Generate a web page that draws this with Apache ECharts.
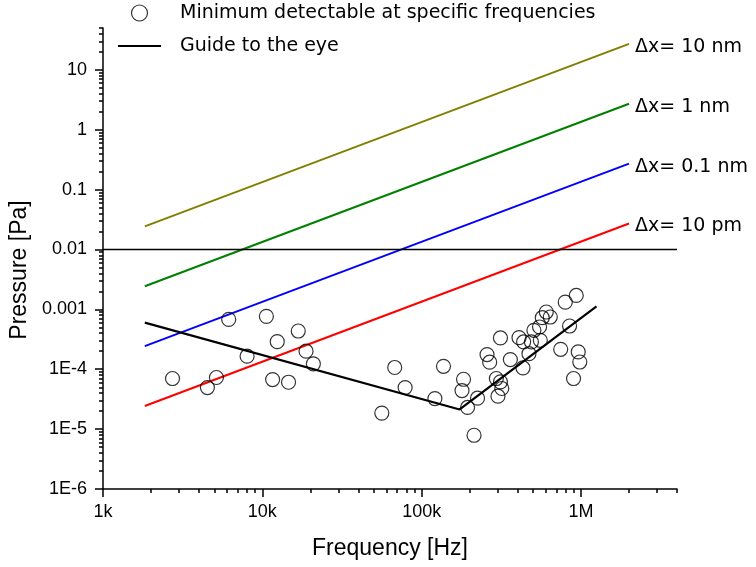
<!DOCTYPE html>
<html>
<head>
<meta charset="utf-8">
<script src="https://cdn.jsdelivr.net/npm/echarts@6/dist/echarts.min.js"></script>
<style>html,body{margin:0;padding:0;background:#fff}#c{width:756px;height:567px}</style>
</head>
<body>
<div id="c"></div>
<script>
// Measured points: frequency [Hz] and minimum detectable pressure [Pa]
const pointFreq = [2730, 4520, 5150, 6150, 8020, 10600, 12400, 11600, 14600, 16800, 18800, 20900,
  56200, 67700, 78700, 121000, 137000, 183000, 179000, 194000, 213000, 224000, 257000, 267000,
  312000, 294000, 312000, 318000, 301000, 360000, 408000, 436000, 432000, 471000, 488000, 506000,
  549000, 555000, 571000, 605000, 641000, 745000, 796000, 847000, 933000, 897000, 960000, 982000];
const pointPressure = [7.0e-5, 4.95e-5, 7.28e-5, 6.8e-4, 1.65e-4, 7.64e-4, 2.89e-4, 6.73e-5, 6.07e-5, 4.35e-4, 2.0e-4, 1.23e-4,
  1.85e-5, 1.07e-4, 4.95e-5, 3.24e-5, 1.12e-4, 6.8e-5, 4.41e-5, 2.3e-5, 7.9e-6, 3.29e-5, 1.76e-4, 1.31e-4,
  3.33e-4, 7.0e-5, 6.15e-5, 4.77e-5, 3.55e-5, 1.45e-4, 3.37e-4, 2.86e-4, 1.05e-4, 1.82e-4, 2.86e-4, 4.47e-4,
  5.08e-4, 3.04e-4, 7.26e-4, 9.03e-4, 7.45e-4, 2.15e-4, 1.32e-3, 5.27e-4, 1.71e-3, 7.0e-5, 1.95e-4, 1.32e-4];

// Guide to the eye
const guideFreq = [1830, 173000, 1250000];
const guidePressure = [6.0e-4, 2.13e-5, 1.12e-3];

// Displacement lines
const dxFreq = [1830, 2000000];
const dx10nm = [0.0243, 27.2];
const dx1nm = [0.00243, 2.72];
const dx01nm = [0.000243, 0.272];
const dx10pm = [0.0000243, 0.0272];
const dxNames = ['\u0394x= 10 nm', '\u0394x= 1 nm', '\u0394x= 0.1 nm', '\u0394x= 10 pm'];

const refLevel = 0.01;

// Axes
const xMin = 1000, xMax = 4000000;
const yMin = 1e-6, yMax = 50;
const xTickValues = [1e3, 1e4, 1e5, 1e6];
const xTickLabels = ['1k', '10k', '100k', '1M'];
const yTickValues = [1e-6, 1e-5, 1e-4, 1e-3, 1e-2, 1e-1, 1, 10];
const yTickLabels = ['1E-6', '1E-5', '1E-4', '0.001', '0.01', '0.1', '1', '10'];

function minorTicks(lo, hi) {
  const out = [];
  for (let e = Math.floor(Math.log10(lo)); e <= Math.ceil(Math.log10(hi)); e++) {
    for (let m = 2; m <= 9; m++) {
      const v = m * Math.pow(10, e);
      if (v >= lo * 0.999 && v <= hi * 1.001) out.push(+v.toPrecision(6));
    }
  }
  return out;
}
function pick(values, labels) {
  return function (v) {
    for (let i = 0; i < values.length; i++) {
      if (Math.abs(Math.log10(values[i]) - Math.log10(v)) < 1e-6) return labels[i];
    }
    return '';
  };
}
const zip = (a, b) => a.map((v, i) => [v, b[i]]);

const SANS = '"Liberation Sans", Arial, sans-serif';
const WIDE = '"DejaVu Sans", sans-serif';

const axisCommon = {
  type: 'log', logBase: 10,
  splitLine: { show: false }, minorSplitLine: { show: false }
};

const chart = echarts.init(document.getElementById('c'), null, { renderer: 'canvas' });
const dxColors = ['#808000', '#008000', '#0000ff', '#ff0000'];
const dxData = [dx10nm, dx1nm, dx01nm, dx10pm];

const option = {
  animation: false,
  backgroundColor: '#fff',
  grid: { left: 103, right: 79, top: 28, bottom: 78, containLabel: false },
  legend: {
    orient: 'vertical', left: 113, top: -2, itemWidth: 43, itemHeight: 16, itemGap: 13,
    symbolKeepAspect: true,
    textStyle: { fontFamily: WIDE, fontSize: 19, color: '#000', lineHeight: 20, padding: [0, 0, 0, 14] },
    data: [
      { name: 'Minimum detectable at specific frequencies', icon: 'circle',
        itemStyle: { color: 'rgba(255,255,255,0)', borderColor: '#000', borderWidth: 1.2 } },
      { name: 'Guide to the eye', icon: 'path://M0,0H43V2H0Z',
        itemStyle: { color: '#000', borderWidth: 0 } }
    ]
  },
  xAxis: [
    Object.assign({}, axisCommon, {
      position: 'bottom', min: xMin, max: xMax,
      axisLine: { show: true, onZero: false, lineStyle: { color: '#000', width: 1.5 } },
      axisTick: { show: true, inside: false, length: 8, lineStyle: { color: '#000', width: 1.5 }, customValues: xTickValues },
      axisLabel: { show: true, margin: 14, color: '#000', fontFamily: SANS, fontSize: 18,
        customValues: xTickValues, formatter: pick(xTickValues, xTickLabels) }
    }),
    Object.assign({}, axisCommon, {
      position: 'bottom', min: xMin, max: xMax,
      axisLine: { show: false, onZero: false },
      axisTick: { show: true, inside: false, length: 4, lineStyle: { color: '#000', width: 1.5 }, customValues: minorTicks(xMin, xMax) },
      axisLabel: { show: false }
    })
  ],
  yAxis: [
    Object.assign({}, axisCommon, {
      position: 'left', min: yMin, max: yMax,
      axisLine: { show: true, onZero: false, lineStyle: { color: '#000', width: 1.5 } },
      axisTick: { show: true, inside: false, length: 8, lineStyle: { color: '#000', width: 1.5 }, customValues: yTickValues },
      axisLabel: { show: true, margin: 16, color: '#000', fontFamily: SANS, fontSize: 18,
        customValues: yTickValues, formatter: pick(yTickValues, yTickLabels) }
    }),
    Object.assign({}, axisCommon, {
      position: 'left', min: yMin, max: yMax,
      axisLine: { show: false, onZero: false },
      axisTick: { show: true, inside: false, length: 4, lineStyle: { color: '#000', width: 1.5 }, customValues: minorTicks(yMin, yMax) },
      axisLabel: { show: false }
    })
  ],
  graphic: [
    { type: 'text', x: 390, y: 549, style: { text: 'Frequency [Hz]', font: '23px ' + SANS, fill: '#000', align: 'center', verticalAlign: 'middle' } },
    { type: 'text', x: 20, y: 270, rotation: Math.PI / 2, style: { text: 'Pressure [Pa]', font: '23px ' + SANS, fill: '#000', align: 'center', verticalAlign: 'middle' } }
  ],
  series: [
    ...dxData.map((d, i) => ({
      type: 'line', name: dxNames[i], data: zip(dxFreq, d), showSymbol: false, symbol: 'none',
      lineStyle: { color: dxColors[i], width: 2 }, itemStyle: { color: dxColors[i] },
      endLabel: { show: true, formatter: '{a}', color: '#000', fontFamily: WIDE, fontSize: 19, distance: 6, offset: [0, 3] },
      silent: true, z: 2
    })),
    {
      type: 'line', name: 'Guide to the eye', data: zip(guideFreq, guidePressure), showSymbol: false, symbol: 'none',
      lineStyle: { color: '#000', width: 2.2 }, itemStyle: { color: '#000' }, silent: true, z: 3,
      markLine: { silent: true, symbol: 'none', label: { show: false },
        lineStyle: { color: '#000', width: 1.3, type: 'solid' }, data: [{ yAxis: refLevel }] }
    },
    {
      type: 'scatter', name: 'Minimum detectable at specific frequencies', data: zip(pointFreq, pointPressure),
      symbol: 'circle', symbolSize: 14,
      itemStyle: { color: 'rgba(255,255,255,0)', borderColor: '#000', borderWidth: 1.2 }, z: 4
    }
  ]
};
chart.setOption(option);
</script>
</body>
</html>
